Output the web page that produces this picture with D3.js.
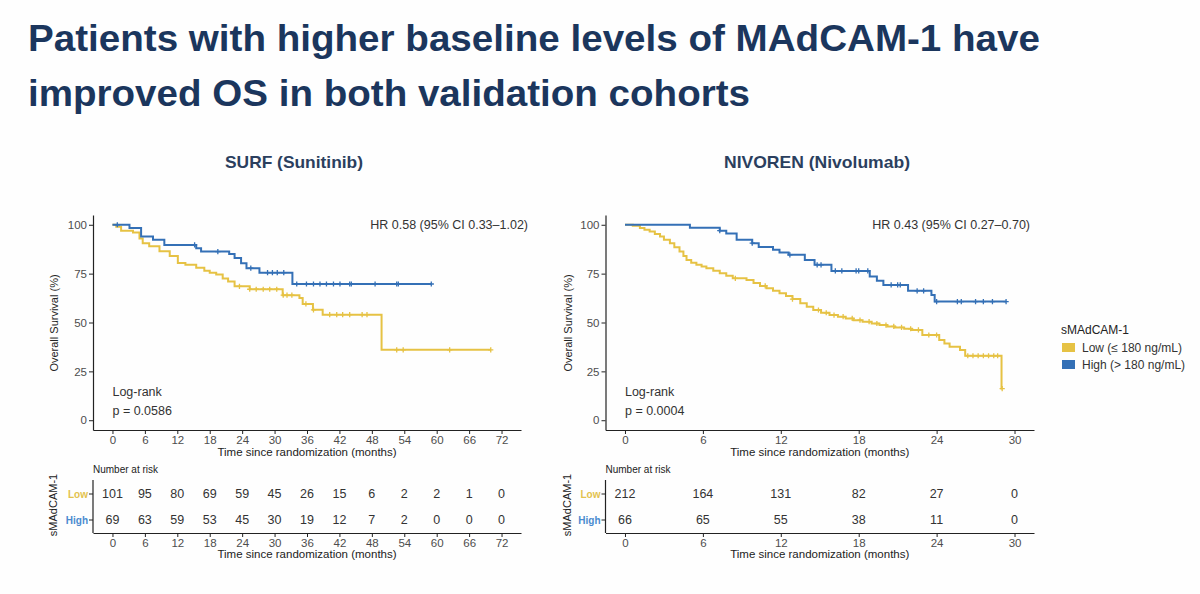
<!DOCTYPE html>
<html><head><meta charset="utf-8">
<script src="https://cdn.jsdelivr.net/npm/d3@7"></script>
<style>
body{margin:0;background:#fff;}
svg{display:block;font-family:"Liberation Sans",Arial,Helvetica,sans-serif;}
</style>
</head><body>
<svg id="chart" width="1200" height="594"></svg>
<script>
// ---------------- DATA ----------------
const titleLines = ["Patients with higher baseline levels of MAdCAM-1 have", "improved OS in both validation cohorts"];
const cohortNames = ["SURF (Sunitinib)", "NIVOREN (Nivolumab)"];
const hrLabels = ["HR 0.58 (95% CI 0.33\u20131.02)", "HR 0.43 (95% CI 0.27\u20130.70)"];
const pLabels = ["p = 0.0586", "p = 0.0004"];
const groupNames = ["Low", "High"];
const legendLabels = ["Low (\u2264 180 ng/mL)", "High (> 180 ng/mL)"];
const legendTitle = "sMAdCAM-1";

// SURF x ticks & risk table
const surfTicks = [0, 6, 12, 18, 24, 30, 36, 42, 48, 54, 60, 66, 72];
const surfRiskLow = [101, 95, 80, 69, 59, 45, 26, 15, 6, 2, 2, 1, 0];
const surfRiskHigh = [69, 63, 59, 53, 45, 30, 19, 12, 7, 2, 0, 0, 0];
// NIVOREN x ticks & risk table
const nivoTicks = [0, 6, 12, 18, 24, 30];
const nivoRiskLow = [212, 164, 131, 82, 27, 0];
const nivoRiskHigh = [66, 65, 55, 38, 11, 0];
const yTicks = [0, 25, 50, 75, 100];

// KM steps: [time (months), survival (%)] ; last time = end of follow-up
const surfLowSteps = [[0,100],[0.7,99],[1.6,97],[3.8,96],[5.0,93],[5.6,90.5],[6.8,89],[8.7,86.5],[10.6,84],[12.1,80.5],[13.5,79.5],[15.5,78],[17,76.5],[18,75.5],[19.2,74.5],[20.4,72.5],[21.4,71],[22.6,68.5],[25.4,67],[31.5,64],[34.6,62.5],[35.2,59.5],[37.1,56.5],[38.9,54],[49.8,36]];
const surfLowEnd = 70;
const surfHighSteps = [[0,100],[3.15,98.3],[5.3,94],[7.5,92.3],[9.6,89.7],[15.5,88],[16.4,86.3],[21.6,85],[22.6,83],[23.8,80.3],[24.8,77.8],[27.2,75.5],[33.3,69.7]];
const surfHighEnd = 59;
const surfLowCens = [23.5,25.4,26.6,27.9,29.1,30.4,31.6,32.3,33.2,35.8,37.2,40.2,41.5,42.6,43.9,46.2,47.1,52.6,53.8,62.4,70];
const surfHighCens = [0.9,15.2,19.5,25.6,28.7,29.6,30.5,31.7,34.1,35.9,37.2,38.4,39.6,40.9,42.1,43.9,44.2,48.6,52.6,52.9,59];

const nivoLowSteps = [[0,100],[0.6,99.5],[1.15,98.3],[1.5,97.5],[1.9,96.6],[2.3,95.3],[2.7,94],[3.0,92.3],[3.46,90.6],[3.8,88.5],[4.2,86.3],[4.5,84],[4.74,82],[5.1,80.6],[5.5,79.5],[5.9,78.6],[6.27,77.8],[6.8,76.5],[7.3,75.2],[7.8,73.9],[8.3,72.6],[9.36,71.8],[9.9,70.2],[10.4,68.7],[10.9,67.5],[11.4,66.3],[11.9,65.0],[12.4,63.6],[12.9,62.0],[13.5,59.8],[14.0,58.0],[14.5,56.4],[15.1,55],[15.75,53.8],[16.4,53],[17.0,52.1],[17.6,51.2],[18.3,50.4],[19.0,49.5],[19.6,48.7],[20.2,48],[20.8,47.5],[21.5,46.8],[22.1,46.2],[22.9,43.6],[24.2,41],[24.6,39.3],[25.0,37.6],[25.8,35.9],[26.2,33],[29.0,16.2]];
const nivoLowEnd = 29.05;
const nivoHighSteps = [[0,100],[5.0,98.5],[7.3,97],[7.8,95.5],[8.6,92.3],[9.8,90.6],[10.3,88.6],[11.4,87.2],[11.9,85.8],[12.6,84.6],[13.85,82],[14.6,79.5],[15.9,76.4],[18.85,73.5],[19.4,71.3],[19.9,69.2],[21.8,66.2],[23.6,64.1],[23.85,60.7]];
const nivoHighEnd = 29.35;
const nivoLowCens = [8.5,10.8,12.9,14.9,15.5,16.1,16.8,17.5,18.1,18.8,19.4,20.1,20.7,21.3,22.0,22.6,23.4,24.0,26.4,26.8,27.2,27.6,28.0,28.4,28.7,29.05];
const nivoHighCens = [7.3,9.8,12.7,14.8,15.1,16.2,16.7,17.8,18.0,18.7,20.5,21.0,21.2,22.5,23.0,24.0,25.6,25.9,27.0,27.6,28.3,29.35];

// ---------------- STYLE ----------------
const colLow = "#E6C244", colHigh = "#3470B6";
const colLowTxt = "#E3C24E", colHighTxt = "#4A8BD0";
const axisCol = "#222", tickTxt = "#4d4d4d";

const svg = d3.select("#chart");
svg.append("rect").attr("width",1200).attr("height",594).attr("fill","#fefefe");

// Title
const tl = svg.append("g").attr("fill","#1b365d").attr("font-weight","bold").attr("font-size",37);
tl.append("text").attr("x",28).attr("y",51).attr("textLength",1012).attr("lengthAdjust","spacingAndGlyphs").text(titleLines[0]);
tl.append("text").attr("x",28).attr("y",106).attr("textLength",722).attr("lengthAdjust","spacingAndGlyphs").text(titleLines[1]);

const panels = [
  {name:cohortNames[0], nameX:225, nameW:138, hr:hrLabels[0], hrX:528, p:pLabels[0], ticks:surfTicks, max:72,
   range:[93,521], riskLow:surfRiskLow, riskHigh:surfRiskHigh,
   lowSteps:surfLowSteps, lowEnd:surfLowEnd, highSteps:surfHighSteps, highEnd:surfHighEnd,
   lowCens:surfLowCens, highCens:surfHighCens, ylabX:58},
  {name:cohortNames[1], nameX:724, nameW:186, hr:hrLabels[1], hrX:1030, p:pLabels[1], ticks:nivoTicks, max:30,
   range:[605.5,1034], riskLow:nivoRiskLow, riskHigh:nivoRiskHigh,
   lowSteps:nivoLowSteps, lowEnd:nivoLowEnd, highSteps:nivoHighSteps, highEnd:nivoHighEnd,
   lowCens:nivoLowCens, highCens:nivoHighCens, ylabX:572}
];

function survAt(steps, t){
  let s = steps[0][1];
  for (const st of steps){ if (st[0] <= t) s = st[1]; }
  return s;
}

function styleAxis(g){
  g.select(".domain").attr("stroke",axisCol).attr("stroke-width",1.2);
  g.selectAll(".tick line").attr("stroke",axisCol).attr("stroke-width",1);
  g.selectAll(".tick text").attr("fill",tickTxt).attr("font-size",11.5).attr("font-family","Liberation Sans, Arial, sans-serif");
}

panels.forEach(P => {
  const x = d3.scaleLinear().domain([-0.05*P.max, 1.05*P.max]).range(P.range);
  const y = d3.scaleLinear().domain([-5,105]).range([430,215]);
  const cx = (P.range[0]+P.range[1])/2;

  // cohort title
  svg.append("text").attr("x",P.nameX).attr("y",168).attr("font-size",17).attr("font-weight","bold")
    .attr("fill","#2b3f5e").attr("textLength",P.nameW).attr("lengthAdjust","spacingAndGlyphs").text(P.name);

  // axes
  const gx = svg.append("g").attr("transform","translate(0,430)")
    .call(d3.axisBottom(x).tickValues(P.ticks).tickSizeInner(4).tickSizeOuter(0).tickPadding(2));
  styleAxis(gx);
  const gy = svg.append("g").attr("transform",`translate(${P.range[0]},0)`)
    .call(d3.axisLeft(y).tickValues(yTicks).tickSizeInner(4).tickSizeOuter(0).tickPadding(2));
  styleAxis(gy);

  svg.append("text").attr("x",cx).attr("y",456).attr("text-anchor","middle").attr("font-size",11.5)
    .attr("fill","#222").text("Time since randomization (months)");
  svg.append("text").attr("transform",`translate(${P.ylabX},323) rotate(-90)`).attr("text-anchor","middle")
    .attr("font-size",11).attr("fill","#222").text("Overall Survival (%)");

  // curves
  const line = d3.line().x(d=>x(d[0])).y(d=>y(d[1])).curve(d3.curveStepAfter);
  const groups = [
    {steps:P.lowSteps, end:P.lowEnd, cens:P.lowCens, col:colLow},
    {steps:P.highSteps, end:P.highEnd, cens:P.highCens, col:colHigh}
  ];
  groups.forEach(G => {
    const pts = G.steps.concat([[G.end, G.steps[G.steps.length-1][1]]]);
    svg.append("path").datum(pts).attr("d",line).attr("fill","none").attr("stroke",G.col)
      .attr("stroke-width",2).attr("stroke-linejoin","miter");
    svg.append("g").selectAll("path").data(G.cens).join("path")
      .attr("transform",d=>`translate(${x(d)},${y(survAt(G.steps,d))})`)
      .attr("d","M-2.6,0H2.6M0,-2.6V2.6").attr("stroke",G.col).attr("stroke-width",1.3);
  });

  // annotations
  svg.append("text").attr("x",P.hrX).attr("y",229).attr("text-anchor","end").attr("font-size",12.5)
    .attr("fill","#333").text(P.hr);
  svg.append("text").attr("x",x(0)).attr("y",396).attr("font-size",12.5).attr("fill","#333").text("Log-rank");
  svg.append("text").attr("x",x(0)).attr("y",415).attr("font-size",12.5).attr("fill","#333").text(P.p);

  // risk table
  const ry = d3.scalePoint().domain(groupNames).range([494,520]);
  svg.append("text").attr("x",P.range[0]).attr("y",473).attr("font-size",10).attr("fill","#222").text("Number at risk");
  const rgx = svg.append("g").attr("transform","translate(0,533)")
    .call(d3.axisBottom(x).tickValues(P.ticks).tickSizeInner(4).tickSizeOuter(0).tickPadding(2));
  styleAxis(rgx);
  svg.append("line").attr("x1",P.range[0]).attr("x2",P.range[0]).attr("y1",480).attr("y2",533)
    .attr("stroke",axisCol).attr("stroke-width",1.2);
  groupNames.forEach((gname,i) => {
    const vals = i===0 ? P.riskLow : P.riskHigh;
    const yy = ry(gname);
    svg.append("line").attr("x1",P.range[0]-4).attr("x2",P.range[0]).attr("y1",yy).attr("y2",yy)
      .attr("stroke",axisCol);
    svg.append("text").attr("x",P.range[0]-5).attr("y",yy).attr("dy","0.35em").attr("text-anchor","end")
      .attr("font-size",10).attr("font-weight","bold").attr("fill",i===0?colLowTxt:colHighTxt).text(gname);
    svg.append("g").selectAll("text").data(vals).join("text")
      .attr("x",(d,j)=>x(P.ticks[j])).attr("y",yy).attr("dy","0.35em").attr("text-anchor","middle")
      .attr("font-size",12.5).attr("fill","#333").text(d=>d);
  });
  svg.append("text").attr("x",cx).attr("y",558).attr("text-anchor","middle").attr("font-size",11.5)
    .attr("fill","#222").text("Time since randomization (months)");
  svg.append("text").attr("transform",`translate(${P.ylabX-1},505) rotate(-90)`).attr("text-anchor","middle")
    .attr("font-size",11).attr("fill","#222").text(legendTitle);
});

// legend
const lg = svg.append("g");
lg.append("text").attr("x",1061).attr("y",334).attr("font-size",12).attr("fill","#222").text(legendTitle);
[colLow, colHigh].forEach((c,i) => {
  lg.append("rect").attr("x",1062).attr("y",343+i*17).attr("width",13).attr("height",9).attr("fill",c);
  lg.append("text").attr("x",1082).attr("y",352+i*17).attr("font-size",12).attr("fill","#333").text(legendLabels[i]);
});
</script>
</body></html>
